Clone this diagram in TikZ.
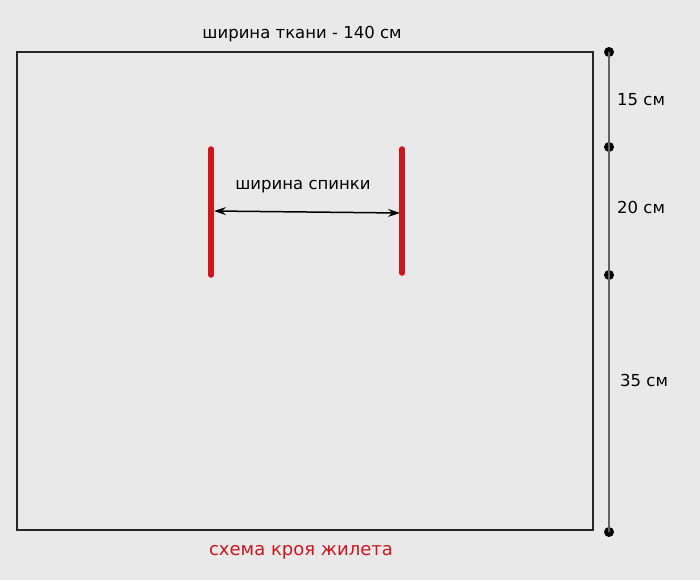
\documentclass[tikz,border=0pt]{standalone}
\usepackage{fontspec}
\setmainfont{DejaVu Sans}
\usetikzlibrary{arrows.meta}
\definecolor{bg}{RGB}{233,233,233}
\definecolor{cutred}{RGB}{205,22,32}
\definecolor{dimgray}{RGB}{100,100,100}
\tikzset{
  lbl/.style={font=\fontsize{16.5}{19}\selectfont, text=black, inner sep=0pt},
  redbar/.style={draw=cutred, line width=5.5pt, line cap=round},
  dimdot/.style={circle, fill=black, inner sep=0pt, minimum size=10pt},
}
\begin{document}
\begin{tikzpicture}[x=1pt,y=-1pt]
\fill[bg] (0,0) rectangle (700,580);
\useasboundingbox (0,0) rectangle (700,580);
% fabric rectangle
\draw[line width=1.4pt, black!85] (17,52) rectangle (593,530);
\node[lbl] (title) at (302,34) {ширина ткани - 140 см};
% vertical dimension
\node[dimdot] (d1) at (609,52) {};
\node[dimdot] (d2) at (609,147) {};
\node[dimdot] (d3) at (609,275) {};
\node[dimdot] (d4) at (609,532) {};
\draw[dimgray, line width=1.8pt] (d1.center) -- (d2.center) -- (d3.center) -- (d4.center);
\node[lbl, anchor=west] (l15) at (617,100) {15 см};
\node[lbl, anchor=west] (l20) at (617,207) {20 см};
\node[lbl, anchor=west] (l35) at (620,380) {35 см};
% back width
\coordinate (la) at (211,149);
\coordinate (lb) at (211,275);
\coordinate (ra) at (402,149);
\coordinate (rb) at (402,273);
\draw[redbar] (la) -- (lb);
\draw[redbar] (ra) -- (rb);
\coordinate (aL) at (214,211);
\coordinate (aR) at (400,213);
\draw[line width=1.5pt, {Stealth[length=12pt,width=8pt]}-{Stealth[length=12pt,width=8pt]}] (aL) -- (aR);
\node[lbl] (back) at (303,187) {ширина спинки};
\node[lbl, text=cutred, font=\fontsize{18}{20}\selectfont] (cap) at (301,552) {схема кроя жилета};
\end{tikzpicture}
\end{document}
